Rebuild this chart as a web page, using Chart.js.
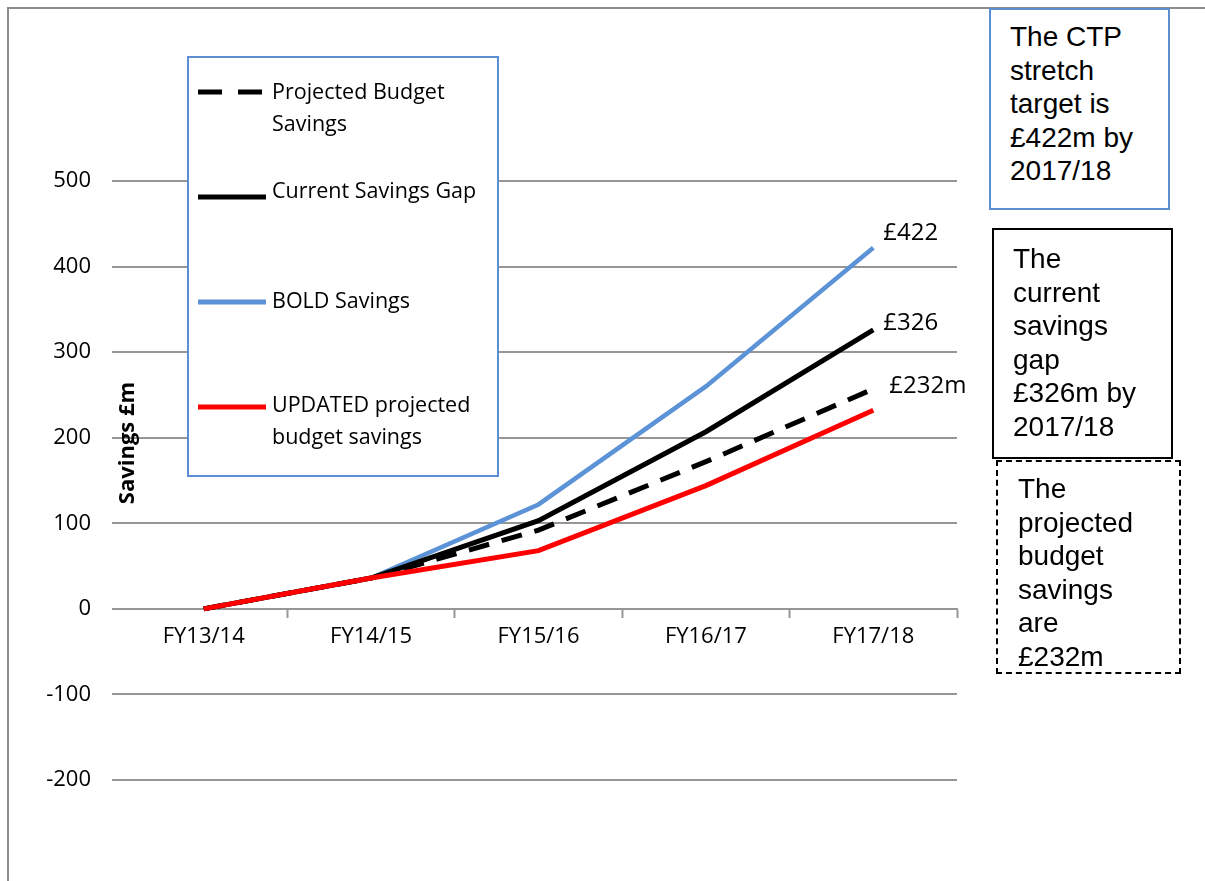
<!DOCTYPE html>
<html>
<head>
<meta charset="utf-8">
<title>Savings chart</title>
<script src="https://cdn.jsdelivr.net/npm/chart.js@4.4.1/dist/chart.umd.min.js"></script>
<style>
	html, body { margin: 0; padding: 0; background: #fff; }
	#wrap { position: relative; width: 1205px; height: 881px; overflow: hidden; }
	#frame { position: absolute; left: 7px; top: 7px; width: 1300px; height: 1000px;
		border-left: 2px solid #8c8c8c; border-top: 2px solid #8c8c8c; }
	#savingsChart { position: absolute; left: 0; top: 0; }
	.note { position: absolute; box-sizing: border-box; background: #fff; color: #000;
		font-family: "Liberation Sans", Arial, sans-serif; font-size: 28px; line-height: 33.5px; }
	#note1 { left: 989px; top: 8px; width: 181px; height: 202px; border: 2px solid #5b8fd4; padding: 10px 0 0 19px; }
	#note2 { left: 992px; top: 228px; width: 181px; height: 231px; border: 2px solid #000; padding: 12px 0 0 19px; }
	#note3 { left: 996px; top: 460px; width: 185px; height: 214px; border: 2px dashed #000; padding: 10px 0 0 20px; }
</style>
</head>
<body>
<div id="wrap">
	<div id="frame"></div>
	<canvas id="savingsChart" width="1205" height="881"></canvas>
	<div class="note" id="note1">The CTP<br>stretch<br>target is<br>£422m by<br>2017/18</div>
	<div class="note" id="note2">The<br>current<br>savings<br>gap<br>£326m by<br>2017/18</div>
	<div class="note" id="note3">The<br>projected<br>budget<br>savings<br>are<br>£232m</div>
</div>
<script>
// Dữ liệu
const categories = ['FY13/14', 'FY14/15', 'FY15/16', 'FY16/17', 'FY17/18'];
const projectedBudget = [0, 36, 92, 172, 257];
const currentGap = [0, 36, 103, 207, 326];
const boldSavings = [0, 36, 122, 260, 422];
const updatedProjected = [0, 36, 68, 144, 232];
const yTicks = [-200, -100, 0, 100, 200, 300, 400, 500];
const legendLines = [
	['Projected Budget', 'Savings'],
	['Current Savings Gap'],
	['BOLD Savings'],
	['UPDATED projected', 'budget savings']
];
const endLabels = ['£232m', '£326', '£422', ''];

const font = '"Open Sans", "Noto Sans", sans-serif';

// Nhãn cuối đường
const endLabelPlugin = {
	id: 'endLabels',
	afterDatasetsDraw(chart) {
		const ctx = chart.ctx;
		ctx.save();
		ctx.font = '24px ' + font;
		ctx.fillStyle = '#000';
		ctx.textAlign = 'left';
		ctx.textBaseline = 'middle';
		chart.data.datasets.forEach((ds, i) => {
			if (!ds.endLabel) return;
			const pts = chart.getDatasetMeta(i).data;
			const pt = pts[pts.length - 1];
			ctx.fillText(ds.endLabel, pt.x + ds.labelDx, pt.y + ds.labelDy);
		});
		ctx.restore();
	}
};

// Tiêu đề trục y (nằm giữa nhãn và vùng vẽ)
const yTitlePlugin = {
	id: 'yTitle',
	afterDraw(chart) {
		const ctx = chart.ctx;
		ctx.save();
		ctx.translate(128, 443);
		ctx.rotate(-Math.PI / 2);
		ctx.font = 'bold 22px ' + font;
		ctx.fillStyle = '#000';
		ctx.textAlign = 'center';
		ctx.textBaseline = 'middle';
		ctx.fillText('Savings £m', 0, 0);
		ctx.restore();
	}
};

// Chú giải dạng hộp
const boxLegendPlugin = {
	id: 'boxLegend',
	afterDraw(chart) {
		const ctx = chart.ctx;
		const sampleY = [92, 197, 302, 407];
		const textTop = [99, 198, 308, 412];
		ctx.save();
		ctx.fillStyle = '#fff';
		ctx.fillRect(187, 56, 311, 420);
		ctx.strokeStyle = '#5b8fd4';
		ctx.lineWidth = 2;
		ctx.strokeRect(188, 57, 310, 419);
		chart.data.datasets.forEach((ds, i) => {
			const dashed = ds.borderDash && ds.borderDash.length;
			ctx.beginPath();
			ctx.strokeStyle = ds.borderColor;
			ctx.lineWidth = 5;
			ctx.lineCap = 'butt';
			ctx.setLineDash(dashed ? [24, 16] : []);
			ctx.moveTo(198, sampleY[i]);
			ctx.lineTo(dashed ? 262 : 266, sampleY[i]);
			ctx.stroke();
			ctx.setLineDash([]);
			ctx.font = '21.5px ' + font;
			ctx.fillStyle = '#000';
			ctx.textAlign = 'left';
			ctx.textBaseline = 'alphabetic';
			legendLines[i].forEach((line, j) => {
				ctx.fillText(line, 272, textTop[i] + j * 32);
			});
		});
		ctx.restore();
	}
};

const gridGray = '#969696';

new Chart(document.getElementById('savingsChart'), {
	type: 'line',
	data: {
		labels: categories,
		datasets: [
			{
				label: legendLines[0].join(' '),
				data: projectedBudget,
				borderColor: '#000000',
				borderWidth: 5,
				borderDash: [21, 13],
				borderCapStyle: 'butt',
				endLabel: endLabels[0], labelDx: 16, labelDy: -3,
				order: 2
			},
			{
				label: legendLines[1].join(' '),
				data: currentGap,
				borderColor: '#000000',
				borderWidth: 5,
				endLabel: endLabels[1], labelDx: 10, labelDy: -7,
				order: 3
			},
			{
				label: legendLines[2].join(' '),
				data: boldSavings,
				borderColor: '#5b93d6',
				borderWidth: 4.5,
				endLabel: endLabels[2], labelDx: 10, labelDy: -15,
				order: 4
			},
			{
				label: legendLines[3].join(' '),
				data: updatedProjected,
				borderColor: '#ff0000',
				borderWidth: 5,
				endLabel: endLabels[3],
				order: 1
			}
		]
	},
	options: {
		responsive: false,
		animation: false,
		devicePixelRatio: 1,
		elements: {
			point: { radius: 0, hoverRadius: 0 },
			line: { tension: 0, fill: false }
		},
		layout: {
			padding: { left: 0, top: 181, right: 248, bottom: 101 }
		},
		plugins: {
			legend: { display: false },
			tooltip: { enabled: false }
		},
		scales: {
			x: {
				position: { y: 0 },
				offset: true,
				grid: {
					drawOnChartArea: false,
					drawTicks: true,
					offset: true,
					tickLength: 8,
					tickWidth: 2,
					tickColor: c => c.index === 0 ? 'rgba(0,0,0,0)' : gridGray
				},
				border: { display: true, color: gridGray, width: 2 },
				ticks: {
					color: '#000',
					padding: 7,
					maxRotation: 0,
					font: { family: font, size: 22 }
				}
			},
			y: {
				min: -200,
				max: 500,
				afterFit: s => { s.width = 120; },
				afterBuildTicks: s => { s.ticks = yTicks.map(v => ({ value: v })); },
				grid: {
					color: gridGray,
					lineWidth: 2,
					drawTicks: true,
					tickLength: 8
				},
				border: { display: false },
				ticks: {
					color: '#000',
					padding: 21,
					font: { family: font, size: 22 }
				}
			}
		}
	},
	plugins: [endLabelPlugin, yTitlePlugin, boxLegendPlugin]
});
</script>
</body>
</html>
